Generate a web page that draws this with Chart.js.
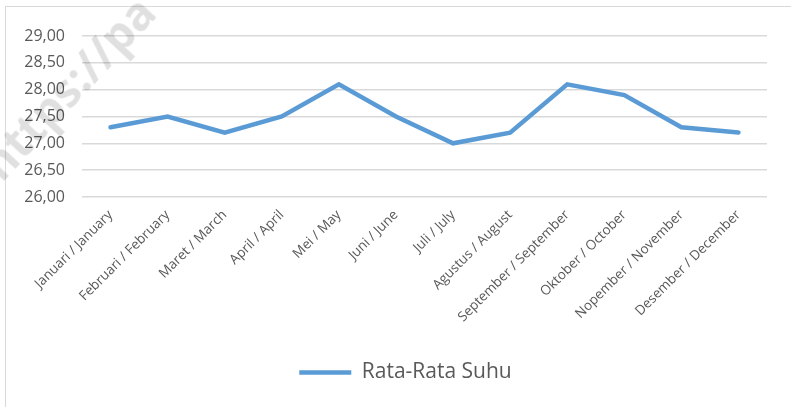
<!DOCTYPE html>
<html>
<head>
<meta charset="utf-8">
<script src="https://cdn.jsdelivr.net/npm/chart.js@4/dist/chart.umd.min.js"></script>
<style>
  html, body { margin: 0; padding: 0; background: #fff; overflow: hidden; }
  #frame { position: absolute; left: 5px; top: 6px; width: 800px; height: 420px; border: 1px solid #d9d9d9; }
  #wrap { position: absolute; left: 6px; top: 7px; width: 785px; height: 400px; }
  #mark { position: absolute; left: -34px; top: 150px; font: bold 46px "Open Sans", sans-serif; color: rgba(0,0,0,0.12);
          transform: rotate(-47deg); transform-origin: left top; white-space: nowrap; pointer-events: none; }
</style>
</head>
<body>
<div id="frame"></div>
<div id="wrap"><canvas id="chart"></canvas></div>
<div id="mark">https://pa</div>
<script>
const months = ['Januari / January', 'Februari / February', 'Maret / March', 'April / April', 'Mei / May', 'Juni / June',
                'Juli / July', 'Agustus / August', 'September / September', 'Oktober / October', 'Nopember / November', 'Desember / December'];
const avgTemp = [27.3, 27.5, 27.2, 27.5, 28.1, 27.5, 27.0, 27.2, 28.1, 27.9, 27.3, 27.2];
const seriesName = 'Rata-Rata Suhu';
const yMin = 26, yMax = 29, yStep = 0.5;

const lineColor = '#5b9bd5';
const textColor = '#595959';

// legend is centred on the whole chart box in the original, nudge it right
const legendShift = {
    id: 'legendShift',
    afterLayout(chart) {
        chart.legend.left += 19;
        chart.legend.right += 19;
    }
};

new Chart(document.getElementById('chart'), {
    type: 'line',
    data: {
        labels: months,
        datasets: [{
            label: seriesName,
            data: avgTemp,
            borderColor: lineColor,
            backgroundColor: lineColor,
            borderWidth: 4.5,
            borderCapStyle: 'round',
            borderJoinStyle: 'miter',
            pointRadius: 0,
            tension: 0
        }]
    },
    options: {
        responsive: true,
        maintainAspectRatio: false,
        animation: false,
        layout: { padding: { top: 29, right: 24, left: 0, bottom: 14 } },
        plugins: {
            tooltip: { enabled: false },
            legend: {
                position: 'bottom',
                labels: {
                    usePointStyle: true,
                    pointStyle: 'line',
                    pointStyleWidth: 52,
                    color: textColor,
                    font: { family: '"Open Sans", sans-serif', size: 21 },
                    padding: 10
                }
            }
        },
        scales: {
            x: {
                offset: true,
                grid: { display: false, drawTicks: false },
                border: { display: false },
                ticks: {
                    color: textColor,
                    font: { family: '"Open Sans", sans-serif', size: 13.5 },
                    maxRotation: 45,
                    minRotation: 45,
                    autoSkip: false,
                    padding: 10
                },
                afterFit: (scale) => { scale.height = 155; }
            },
            y: {
                min: yMin,
                max: yMax,
                grid: { color: '#d9d9d9', lineWidth: 1.5, drawTicks: false },
                border: { display: false },
                ticks: {
                    stepSize: yStep,
                    color: textColor,
                    padding: 17,
                    font: { family: '"Open Sans", sans-serif', size: 16 },
                    callback: (v) => v.toFixed(2).replace('.', ',')
                },
                afterFit: (scale) => { scale.width = 76; }
            }
        }
    },
    plugins: [legendShift]
});
</script>
</body>
</html>
